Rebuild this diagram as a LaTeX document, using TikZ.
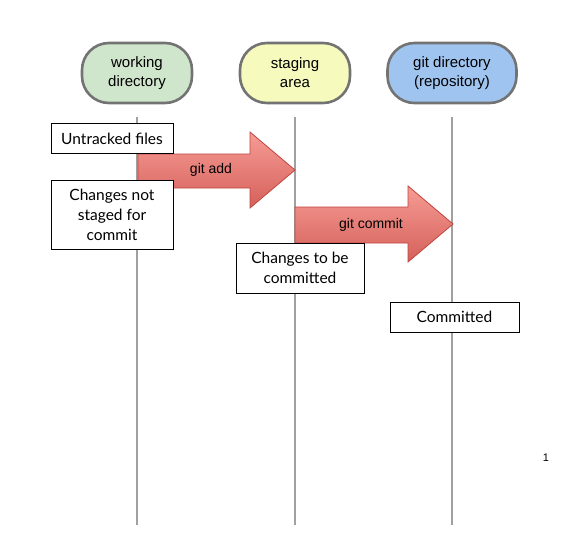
\documentclass[tikz,border=0pt]{standalone}
\usepackage{fontspec}
\setmainfont{Liberation Sans}
\newfontfamily\boxfont{Lato}
\usetikzlibrary{shapes.misc}
\definecolor{pillgreen}{HTML}{D0E6CC}
\definecolor{pillyellow}{HTML}{F6FABD}
\definecolor{pillblue}{HTML}{A0C4F0}
\definecolor{pillborder}{HTML}{737373}
\definecolor{lifegray}{HTML}{A0A0A0}
\definecolor{arrowtop}{HTML}{F69C95}
\definecolor{arrowbot}{HTML}{D5605A}
\definecolor{arrowborder}{HTML}{C0453F}
\tikzset{
  pill/.style={draw=pillborder, line width=2.6pt, rounded corners=27pt,
    minimum width=110pt, minimum height=60pt, align=center,
    font=\fontsize{15}{19}\selectfont},
  lifeline/.style={draw=lifegray, line width=2.8pt},
  statebox/.style={draw=black, fill=white, line width=0.9pt, align=center,
    font=\boxfont\fontsize{15.5}{20}\selectfont, inner sep=0pt},
  blockarrow/.style={draw=arrowborder, line width=0.8pt, top color=arrowtop, bottom color=arrowbot},
  arrowlabel/.style={font=\fontsize{14}{16}\selectfont}
}
\begin{document}
\begin{tikzpicture}[x=1pt,y=-1pt]
\useasboundingbox (0,0) rectangle (566,558);
% lifeline end points
\coordinate (wtop) at (137,117); \coordinate (wbot) at (137,525);
\coordinate (stop) at (295,117); \coordinate (sbot) at (295,525);
\coordinate (gtop) at (452,117); \coordinate (gbot) at (452,525);
\draw[lifeline] (wtop) -- (wbot);
\draw[lifeline] (stop) -- (sbot);
\draw[lifeline] (gtop) -- (gbot);
% headers
\node[pill, fill=pillgreen] (wd) at (137,73) {working\\directory};
\node[pill, fill=pillyellow] (sa) at (295,73) {staging\\area};
\node[pill, fill=pillblue, minimum width=129pt] (gd) at (452,73) {git directory\\(repository)};
% git add arrow
\path[blockarrow] (138,154) -- (250,154) -- (250,132) -- (295,170) -- (250,208) -- (250,188) -- (138,188) -- cycle;
\node[arrowlabel] (add) at (211,170) {git add};
% git commit arrow
\path[blockarrow] (295,207) -- (408,207) -- (408,186) -- (453,224) -- (408,262) -- (408,243) -- (295,243) -- cycle;
\node[arrowlabel] (commit) at (371,225) {git commit};
% state boxes
\node[statebox, minimum width=122pt, minimum height=30pt] (untracked) at (112,138.5) {Untracked files};
\node[statebox, minimum width=122pt, minimum height=69pt] (notstaged) at (112,214.5) {Changes not\\staged for\\commit};
\node[statebox, minimum width=128pt, minimum height=50pt] (tobe) at (300,268) {Changes to be\\committed};
\node[statebox, minimum width=129pt, minimum height=30pt] (committed) at (454.5,317) {Committed};
\node[font=\fontsize{11}{13}\selectfont] (pagenum) at (546,458) {1};
\end{tikzpicture}
\end{document}
